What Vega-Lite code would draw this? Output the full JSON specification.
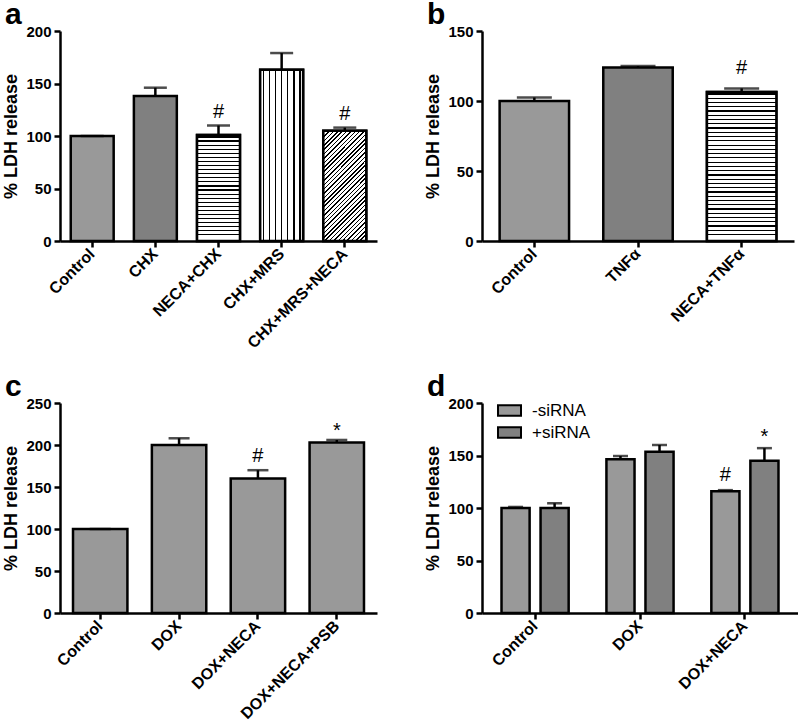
{
  "$schema": "https://vega.github.io/schema/vega-lite/v6.json",
  "padding": {"left": 2, "top": 0, "right": 0, "bottom": 0},
  "background": "white",
  "spacing": 21,
  "resolve": {"scale": {"x": "independent", "y": "independent", "fill": "independent"}},
  "config": {
    "font": "Liberation Sans",
    "view": {"stroke": null},
    "axis": {"domainColor": "black", "domainWidth": 2.5, "tickColor": "black", "tickWidth": 2.5, "tickSize": 6, "labelFont": "Liberation Sans", "labelFontWeight": "bold", "labelFontSize": 15, "labelColor": "black", "titleFont": "Liberation Sans", "titleFontWeight": "bold", "titleFontSize": 18, "titleColor": "black", "grid": false},
    "axisX": {"labelAngle": -45, "labelAlign": "right", "labelBaseline": "middle", "labelPadding": 4, "labelFontSize": 16},
    "axisY": {"labelPadding": 3, "titlePadding": 5},
    "title": {"anchor": "start", "frame": "group", "fontSize": 30, "fontWeight": "bold", "color": "black", "dx": -55, "offset": -6, "baseline": "alphabetic", "font": "Liberation Sans"}
  },
  "vconcat": [
    {
      "hconcat": [
        {
          "title": {"text": "a"},
          "width": 317, "height": 210,
          "data": {"values": [
            {"group": "Control", "value": 100, "err": 100, "pattern": "fine", "sig": ""},
            {"group": "CHX", "value": 138, "err": 146, "pattern": "coarse", "sig": ""},
            {"group": "NECA+CHX", "value": 101, "err": 110, "pattern": "hlines", "sig": "#"},
            {"group": "CHX+MRS", "value": 163, "err": 179, "pattern": "vlines", "sig": ""},
            {"group": "CHX+MRS+NECA", "value": 105, "err": 108, "pattern": "diag", "sig": "#"}
          ]},
          "encoding": {"x": {"field": "group", "type": "nominal", "sort": null, "title": null, "scale": {"domain": ["Control", "CHX", "NECA+CHX", "CHX+MRS", "CHX+MRS+NECA"], "paddingInner": 0.32, "paddingOuter": 0.17}}},
          "layer": [
            {"mark": {"type": "bar", "stroke": "black", "strokeWidth": 2.5},
             "encoding": {"y": {"field": "value", "type": "quantitative", "title": "% LDH release", "scale": {"domain": [0, 200], "nice": false}, "axis": {"values": [0, 50, 100, 150, 200]}},
                          "fill": {"field": "pattern", "type": "nominal", "legend": null, "scale": {"domain": ["fine", "coarse", "hlines", "vlines", "diag"], "range": ["#999999", "#808080", "#c0c0c0", "#d5d5d5", "#adadad"]}}}},
            {"transform": [{"filter": "datum.pattern == 'hlines'"}],
             "mark": {"type": "bar", "stroke": "black", "strokeWidth": 2.5,
                      "fill": {"gradient": "linear", "x1": 0, "y1": 0, "x2": 0, "y2": 1, "stops": [
                              {"offset": 0, "color": "#fff"},
                              {"offset": 0.0137, "color": "#fff"}, {"offset": 0.0137, "color": "#000"}, {"offset": 0.0247, "color": "#000"}, {"offset": 0.0247, "color": "#fff"},
                              {"offset": 0.0522, "color": "#fff"}, {"offset": 0.0522, "color": "#000"}, {"offset": 0.0632, "color": "#000"}, {"offset": 0.0632, "color": "#fff"},
                              {"offset": 0.0907, "color": "#fff"}, {"offset": 0.0907, "color": "#000"}, {"offset": 0.1017, "color": "#000"}, {"offset": 0.1017, "color": "#fff"},
                              {"offset": 0.1291, "color": "#fff"}, {"offset": 0.1291, "color": "#000"}, {"offset": 0.1401, "color": "#000"}, {"offset": 0.1401, "color": "#fff"},
                              {"offset": 0.1676, "color": "#fff"}, {"offset": 0.1676, "color": "#000"}, {"offset": 0.1786, "color": "#000"}, {"offset": 0.1786, "color": "#fff"},
                              {"offset": 0.2060, "color": "#fff"}, {"offset": 0.2060, "color": "#000"}, {"offset": 0.2170, "color": "#000"}, {"offset": 0.2170, "color": "#fff"},
                              {"offset": 0.2445, "color": "#fff"}, {"offset": 0.2445, "color": "#000"}, {"offset": 0.2555, "color": "#000"}, {"offset": 0.2555, "color": "#fff"},
                              {"offset": 0.2830, "color": "#fff"}, {"offset": 0.2830, "color": "#000"}, {"offset": 0.2940, "color": "#000"}, {"offset": 0.2940, "color": "#fff"},
                              {"offset": 0.3214, "color": "#fff"}, {"offset": 0.3214, "color": "#000"}, {"offset": 0.3324, "color": "#000"}, {"offset": 0.3324, "color": "#fff"},
                              {"offset": 0.3599, "color": "#fff"}, {"offset": 0.3599, "color": "#000"}, {"offset": 0.3709, "color": "#000"}, {"offset": 0.3709, "color": "#fff"},
                              {"offset": 0.3983, "color": "#fff"}, {"offset": 0.3983, "color": "#000"}, {"offset": 0.4093, "color": "#000"}, {"offset": 0.4093, "color": "#fff"},
                              {"offset": 0.4368, "color": "#fff"}, {"offset": 0.4368, "color": "#000"}, {"offset": 0.4478, "color": "#000"}, {"offset": 0.4478, "color": "#fff"},
                              {"offset": 0.4753, "color": "#fff"}, {"offset": 0.4753, "color": "#000"}, {"offset": 0.4863, "color": "#000"}, {"offset": 0.4863, "color": "#fff"},
                              {"offset": 0.5137, "color": "#fff"}, {"offset": 0.5137, "color": "#000"}, {"offset": 0.5247, "color": "#000"}, {"offset": 0.5247, "color": "#fff"},
                              {"offset": 0.5522, "color": "#fff"}, {"offset": 0.5522, "color": "#000"}, {"offset": 0.5632, "color": "#000"}, {"offset": 0.5632, "color": "#fff"},
                              {"offset": 0.5907, "color": "#fff"}, {"offset": 0.5907, "color": "#000"}, {"offset": 0.6017, "color": "#000"}, {"offset": 0.6017, "color": "#fff"},
                              {"offset": 0.6291, "color": "#fff"}, {"offset": 0.6291, "color": "#000"}, {"offset": 0.6401, "color": "#000"}, {"offset": 0.6401, "color": "#fff"},
                              {"offset": 0.6676, "color": "#fff"}, {"offset": 0.6676, "color": "#000"}, {"offset": 0.6786, "color": "#000"}, {"offset": 0.6786, "color": "#fff"},
                              {"offset": 0.7060, "color": "#fff"}, {"offset": 0.7060, "color": "#000"}, {"offset": 0.7170, "color": "#000"}, {"offset": 0.7170, "color": "#fff"},
                              {"offset": 0.7445, "color": "#fff"}, {"offset": 0.7445, "color": "#000"}, {"offset": 0.7555, "color": "#000"}, {"offset": 0.7555, "color": "#fff"},
                              {"offset": 0.7830, "color": "#fff"}, {"offset": 0.7830, "color": "#000"}, {"offset": 0.7940, "color": "#000"}, {"offset": 0.7940, "color": "#fff"},
                              {"offset": 0.8214, "color": "#fff"}, {"offset": 0.8214, "color": "#000"}, {"offset": 0.8324, "color": "#000"}, {"offset": 0.8324, "color": "#fff"},
                              {"offset": 0.8599, "color": "#fff"}, {"offset": 0.8599, "color": "#000"}, {"offset": 0.8709, "color": "#000"}, {"offset": 0.8709, "color": "#fff"},
                              {"offset": 0.8983, "color": "#fff"}, {"offset": 0.8983, "color": "#000"}, {"offset": 0.9093, "color": "#000"}, {"offset": 0.9093, "color": "#fff"},
                              {"offset": 0.9368, "color": "#fff"}, {"offset": 0.9368, "color": "#000"}, {"offset": 0.9478, "color": "#000"}, {"offset": 0.9478, "color": "#fff"},
                              {"offset": 1, "color": "#fff"}
                            ]}},
             "encoding": {"y": {"field": "value", "type": "quantitative", "title": "% LDH release"}}},
            {"transform": [{"filter": "datum.pattern == 'vlines'"}],
             "mark": {"type": "bar", "stroke": "black", "strokeWidth": 2.5,
                      "fill": {"gradient": "linear", "x1": 0, "y1": 0, "x2": 1, "y2": 0, "stops": [
                              {"offset": 0, "color": "#fff"},
                              {"offset": 0.0564, "color": "#fff"}, {"offset": 0.0564, "color": "#000"}, {"offset": 0.0864, "color": "#000"}, {"offset": 0.0864, "color": "#fff"},
                              {"offset": 0.1993, "color": "#fff"}, {"offset": 0.1993, "color": "#000"}, {"offset": 0.2293, "color": "#000"}, {"offset": 0.2293, "color": "#fff"},
                              {"offset": 0.3421, "color": "#fff"}, {"offset": 0.3421, "color": "#000"}, {"offset": 0.3721, "color": "#000"}, {"offset": 0.3721, "color": "#fff"},
                              {"offset": 0.4850, "color": "#fff"}, {"offset": 0.4850, "color": "#000"}, {"offset": 0.5150, "color": "#000"}, {"offset": 0.5150, "color": "#fff"},
                              {"offset": 0.6279, "color": "#fff"}, {"offset": 0.6279, "color": "#000"}, {"offset": 0.6579, "color": "#000"}, {"offset": 0.6579, "color": "#fff"},
                              {"offset": 0.7707, "color": "#fff"}, {"offset": 0.7707, "color": "#000"}, {"offset": 0.8007, "color": "#000"}, {"offset": 0.8007, "color": "#fff"},
                              {"offset": 0.9136, "color": "#fff"}, {"offset": 0.9136, "color": "#000"}, {"offset": 0.9436, "color": "#000"}, {"offset": 0.9436, "color": "#fff"},
                              {"offset": 1, "color": "#fff"}
                            ]}},
             "encoding": {"y": {"field": "value", "type": "quantitative", "title": "% LDH release"}}},
            {"transform": [{"filter": "datum.pattern == 'diag'"}],
             "mark": {"type": "bar", "stroke": "black", "strokeWidth": 2.5,
                      "fill": {"gradient": "linear", "x1": 0, "y1": 0, "x2": 0.471, "y2": 1.207, "stops": [
                              {"offset": 0, "color": "#fff"},
                              {"offset": 0.0090, "color": "#fff"}, {"offset": 0.0090, "color": "#000"}, {"offset": 0.0190, "color": "#000"}, {"offset": 0.0190, "color": "#fff"},
                              {"offset": 0.0376, "color": "#fff"}, {"offset": 0.0376, "color": "#000"}, {"offset": 0.0476, "color": "#000"}, {"offset": 0.0476, "color": "#fff"},
                              {"offset": 0.0661, "color": "#fff"}, {"offset": 0.0661, "color": "#000"}, {"offset": 0.0761, "color": "#000"}, {"offset": 0.0761, "color": "#fff"},
                              {"offset": 0.0947, "color": "#fff"}, {"offset": 0.0947, "color": "#000"}, {"offset": 0.1047, "color": "#000"}, {"offset": 0.1047, "color": "#fff"},
                              {"offset": 0.1233, "color": "#fff"}, {"offset": 0.1233, "color": "#000"}, {"offset": 0.1333, "color": "#000"}, {"offset": 0.1333, "color": "#fff"},
                              {"offset": 0.1519, "color": "#fff"}, {"offset": 0.1519, "color": "#000"}, {"offset": 0.1619, "color": "#000"}, {"offset": 0.1619, "color": "#fff"},
                              {"offset": 0.1804, "color": "#fff"}, {"offset": 0.1804, "color": "#000"}, {"offset": 0.1904, "color": "#000"}, {"offset": 0.1904, "color": "#fff"},
                              {"offset": 0.2090, "color": "#fff"}, {"offset": 0.2090, "color": "#000"}, {"offset": 0.2190, "color": "#000"}, {"offset": 0.2190, "color": "#fff"},
                              {"offset": 0.2376, "color": "#fff"}, {"offset": 0.2376, "color": "#000"}, {"offset": 0.2476, "color": "#000"}, {"offset": 0.2476, "color": "#fff"},
                              {"offset": 0.2661, "color": "#fff"}, {"offset": 0.2661, "color": "#000"}, {"offset": 0.2761, "color": "#000"}, {"offset": 0.2761, "color": "#fff"},
                              {"offset": 0.2947, "color": "#fff"}, {"offset": 0.2947, "color": "#000"}, {"offset": 0.3047, "color": "#000"}, {"offset": 0.3047, "color": "#fff"},
                              {"offset": 0.3233, "color": "#fff"}, {"offset": 0.3233, "color": "#000"}, {"offset": 0.3333, "color": "#000"}, {"offset": 0.3333, "color": "#fff"},
                              {"offset": 0.3519, "color": "#fff"}, {"offset": 0.3519, "color": "#000"}, {"offset": 0.3619, "color": "#000"}, {"offset": 0.3619, "color": "#fff"},
                              {"offset": 0.3804, "color": "#fff"}, {"offset": 0.3804, "color": "#000"}, {"offset": 0.3904, "color": "#000"}, {"offset": 0.3904, "color": "#fff"},
                              {"offset": 0.4090, "color": "#fff"}, {"offset": 0.4090, "color": "#000"}, {"offset": 0.4190, "color": "#000"}, {"offset": 0.4190, "color": "#fff"},
                              {"offset": 0.4376, "color": "#fff"}, {"offset": 0.4376, "color": "#000"}, {"offset": 0.4476, "color": "#000"}, {"offset": 0.4476, "color": "#fff"},
                              {"offset": 0.4661, "color": "#fff"}, {"offset": 0.4661, "color": "#000"}, {"offset": 0.4761, "color": "#000"}, {"offset": 0.4761, "color": "#fff"},
                              {"offset": 0.4947, "color": "#fff"}, {"offset": 0.4947, "color": "#000"}, {"offset": 0.5047, "color": "#000"}, {"offset": 0.5047, "color": "#fff"},
                              {"offset": 0.5233, "color": "#fff"}, {"offset": 0.5233, "color": "#000"}, {"offset": 0.5333, "color": "#000"}, {"offset": 0.5333, "color": "#fff"},
                              {"offset": 0.5519, "color": "#fff"}, {"offset": 0.5519, "color": "#000"}, {"offset": 0.5619, "color": "#000"}, {"offset": 0.5619, "color": "#fff"},
                              {"offset": 0.5804, "color": "#fff"}, {"offset": 0.5804, "color": "#000"}, {"offset": 0.5904, "color": "#000"}, {"offset": 0.5904, "color": "#fff"},
                              {"offset": 0.6090, "color": "#fff"}, {"offset": 0.6090, "color": "#000"}, {"offset": 0.6190, "color": "#000"}, {"offset": 0.6190, "color": "#fff"},
                              {"offset": 0.6376, "color": "#fff"}, {"offset": 0.6376, "color": "#000"}, {"offset": 0.6476, "color": "#000"}, {"offset": 0.6476, "color": "#fff"},
                              {"offset": 0.6661, "color": "#fff"}, {"offset": 0.6661, "color": "#000"}, {"offset": 0.6761, "color": "#000"}, {"offset": 0.6761, "color": "#fff"},
                              {"offset": 0.6947, "color": "#fff"}, {"offset": 0.6947, "color": "#000"}, {"offset": 0.7047, "color": "#000"}, {"offset": 0.7047, "color": "#fff"},
                              {"offset": 0.7233, "color": "#fff"}, {"offset": 0.7233, "color": "#000"}, {"offset": 0.7333, "color": "#000"}, {"offset": 0.7333, "color": "#fff"},
                              {"offset": 0.7519, "color": "#fff"}, {"offset": 0.7519, "color": "#000"}, {"offset": 0.7619, "color": "#000"}, {"offset": 0.7619, "color": "#fff"},
                              {"offset": 0.7804, "color": "#fff"}, {"offset": 0.7804, "color": "#000"}, {"offset": 0.7904, "color": "#000"}, {"offset": 0.7904, "color": "#fff"},
                              {"offset": 0.8090, "color": "#fff"}, {"offset": 0.8090, "color": "#000"}, {"offset": 0.8190, "color": "#000"}, {"offset": 0.8190, "color": "#fff"},
                              {"offset": 0.8376, "color": "#fff"}, {"offset": 0.8376, "color": "#000"}, {"offset": 0.8476, "color": "#000"}, {"offset": 0.8476, "color": "#fff"},
                              {"offset": 0.8661, "color": "#fff"}, {"offset": 0.8661, "color": "#000"}, {"offset": 0.8761, "color": "#000"}, {"offset": 0.8761, "color": "#fff"},
                              {"offset": 0.8947, "color": "#fff"}, {"offset": 0.8947, "color": "#000"}, {"offset": 0.9047, "color": "#000"}, {"offset": 0.9047, "color": "#fff"},
                              {"offset": 0.9233, "color": "#fff"}, {"offset": 0.9233, "color": "#000"}, {"offset": 0.9333, "color": "#000"}, {"offset": 0.9333, "color": "#fff"},
                              {"offset": 0.9519, "color": "#fff"}, {"offset": 0.9519, "color": "#000"}, {"offset": 0.9619, "color": "#000"}, {"offset": 0.9619, "color": "#fff"},
                              {"offset": 0.9804, "color": "#fff"}, {"offset": 0.9804, "color": "#000"}, {"offset": 0.9904, "color": "#000"}, {"offset": 0.9904, "color": "#fff"},
                              {"offset": 1, "color": "#fff"}
                            ]}},
             "encoding": {"y": {"field": "value", "type": "quantitative", "title": "% LDH release"}}},
            {"mark": {"type": "rule", "strokeWidth": 2.5, "color": "black"},
             "encoding": {"y": {"field": "value", "type": "quantitative", "title": "% LDH release"}, "y2": {"field": "err"}}},
            {"mark": {"type": "tick", "size": 23, "thickness": 2.5, "color": "black"},
             "encoding": {"y": {"field": "err", "type": "quantitative", "title": "% LDH release"}}},
            {"mark": {"type": "text", "dy": -14, "fontSize": 20, "baseline": "middle", "color": "black"},
             "encoding": {"y": {"field": "err", "type": "quantitative", "title": "% LDH release"}, "text": {"field": "sig"}}}
          ]
        },
        {
          "title": {"text": "b"},
          "width": 312, "height": 210,
          "data": {"values": [
            {"group": "Control", "value": 100, "err": 102.5, "pattern": "fine", "sig": ""},
            {"group": "TNFα", "value": 124, "err": 125, "pattern": "coarse", "sig": ""},
            {"group": "NECA+TNFα", "value": 106.5, "err": 109, "pattern": "hlines", "sig": "#"}
          ]},
          "encoding": {"x": {"field": "group", "type": "nominal", "sort": null, "title": null, "scale": {"domain": ["Control", "TNFα", "NECA+TNFα"], "paddingInner": 0.33, "paddingOuter": 0.17}}},
          "layer": [
            {"mark": {"type": "bar", "stroke": "black", "strokeWidth": 2.5},
             "encoding": {"y": {"field": "value", "type": "quantitative", "title": "% LDH release", "scale": {"domain": [0, 150], "nice": false}, "axis": {"values": [0, 50, 100, 150]}},
                          "fill": {"field": "pattern", "type": "nominal", "legend": null, "scale": {"domain": ["fine", "coarse", "hlines"], "range": ["#999999", "#808080", "#c0c0c0"]}}}},
            {"transform": [{"filter": "datum.pattern == 'hlines'"}],
             "mark": {"type": "bar", "stroke": "black", "strokeWidth": 2.5,
                      "fill": {"gradient": "linear", "x1": 0, "y1": 0, "x2": 0, "y2": 1, "stops": [
                              {"offset": 0, "color": "#fff"},
                              {"offset": 0.0100, "color": "#fff"}, {"offset": 0.0100, "color": "#000"}, {"offset": 0.0180, "color": "#000"}, {"offset": 0.0180, "color": "#fff"},
                              {"offset": 0.0386, "color": "#fff"}, {"offset": 0.0386, "color": "#000"}, {"offset": 0.0466, "color": "#000"}, {"offset": 0.0466, "color": "#fff"},
                              {"offset": 0.0671, "color": "#fff"}, {"offset": 0.0671, "color": "#000"}, {"offset": 0.0751, "color": "#000"}, {"offset": 0.0751, "color": "#fff"},
                              {"offset": 0.0957, "color": "#fff"}, {"offset": 0.0957, "color": "#000"}, {"offset": 0.1037, "color": "#000"}, {"offset": 0.1037, "color": "#fff"},
                              {"offset": 0.1243, "color": "#fff"}, {"offset": 0.1243, "color": "#000"}, {"offset": 0.1323, "color": "#000"}, {"offset": 0.1323, "color": "#fff"},
                              {"offset": 0.1529, "color": "#fff"}, {"offset": 0.1529, "color": "#000"}, {"offset": 0.1609, "color": "#000"}, {"offset": 0.1609, "color": "#fff"},
                              {"offset": 0.1814, "color": "#fff"}, {"offset": 0.1814, "color": "#000"}, {"offset": 0.1894, "color": "#000"}, {"offset": 0.1894, "color": "#fff"},
                              {"offset": 0.2100, "color": "#fff"}, {"offset": 0.2100, "color": "#000"}, {"offset": 0.2180, "color": "#000"}, {"offset": 0.2180, "color": "#fff"},
                              {"offset": 0.2386, "color": "#fff"}, {"offset": 0.2386, "color": "#000"}, {"offset": 0.2466, "color": "#000"}, {"offset": 0.2466, "color": "#fff"},
                              {"offset": 0.2671, "color": "#fff"}, {"offset": 0.2671, "color": "#000"}, {"offset": 0.2751, "color": "#000"}, {"offset": 0.2751, "color": "#fff"},
                              {"offset": 0.2957, "color": "#fff"}, {"offset": 0.2957, "color": "#000"}, {"offset": 0.3037, "color": "#000"}, {"offset": 0.3037, "color": "#fff"},
                              {"offset": 0.3243, "color": "#fff"}, {"offset": 0.3243, "color": "#000"}, {"offset": 0.3323, "color": "#000"}, {"offset": 0.3323, "color": "#fff"},
                              {"offset": 0.3529, "color": "#fff"}, {"offset": 0.3529, "color": "#000"}, {"offset": 0.3609, "color": "#000"}, {"offset": 0.3609, "color": "#fff"},
                              {"offset": 0.3814, "color": "#fff"}, {"offset": 0.3814, "color": "#000"}, {"offset": 0.3894, "color": "#000"}, {"offset": 0.3894, "color": "#fff"},
                              {"offset": 0.4100, "color": "#fff"}, {"offset": 0.4100, "color": "#000"}, {"offset": 0.4180, "color": "#000"}, {"offset": 0.4180, "color": "#fff"},
                              {"offset": 0.4386, "color": "#fff"}, {"offset": 0.4386, "color": "#000"}, {"offset": 0.4466, "color": "#000"}, {"offset": 0.4466, "color": "#fff"},
                              {"offset": 0.4671, "color": "#fff"}, {"offset": 0.4671, "color": "#000"}, {"offset": 0.4751, "color": "#000"}, {"offset": 0.4751, "color": "#fff"},
                              {"offset": 0.4957, "color": "#fff"}, {"offset": 0.4957, "color": "#000"}, {"offset": 0.5037, "color": "#000"}, {"offset": 0.5037, "color": "#fff"},
                              {"offset": 0.5243, "color": "#fff"}, {"offset": 0.5243, "color": "#000"}, {"offset": 0.5323, "color": "#000"}, {"offset": 0.5323, "color": "#fff"},
                              {"offset": 0.5529, "color": "#fff"}, {"offset": 0.5529, "color": "#000"}, {"offset": 0.5609, "color": "#000"}, {"offset": 0.5609, "color": "#fff"},
                              {"offset": 0.5814, "color": "#fff"}, {"offset": 0.5814, "color": "#000"}, {"offset": 0.5894, "color": "#000"}, {"offset": 0.5894, "color": "#fff"},
                              {"offset": 0.6100, "color": "#fff"}, {"offset": 0.6100, "color": "#000"}, {"offset": 0.6180, "color": "#000"}, {"offset": 0.6180, "color": "#fff"},
                              {"offset": 0.6386, "color": "#fff"}, {"offset": 0.6386, "color": "#000"}, {"offset": 0.6466, "color": "#000"}, {"offset": 0.6466, "color": "#fff"},
                              {"offset": 0.6671, "color": "#fff"}, {"offset": 0.6671, "color": "#000"}, {"offset": 0.6751, "color": "#000"}, {"offset": 0.6751, "color": "#fff"},
                              {"offset": 0.6957, "color": "#fff"}, {"offset": 0.6957, "color": "#000"}, {"offset": 0.7037, "color": "#000"}, {"offset": 0.7037, "color": "#fff"},
                              {"offset": 0.7243, "color": "#fff"}, {"offset": 0.7243, "color": "#000"}, {"offset": 0.7323, "color": "#000"}, {"offset": 0.7323, "color": "#fff"},
                              {"offset": 0.7529, "color": "#fff"}, {"offset": 0.7529, "color": "#000"}, {"offset": 0.7609, "color": "#000"}, {"offset": 0.7609, "color": "#fff"},
                              {"offset": 0.7814, "color": "#fff"}, {"offset": 0.7814, "color": "#000"}, {"offset": 0.7894, "color": "#000"}, {"offset": 0.7894, "color": "#fff"},
                              {"offset": 0.8100, "color": "#fff"}, {"offset": 0.8100, "color": "#000"}, {"offset": 0.8180, "color": "#000"}, {"offset": 0.8180, "color": "#fff"},
                              {"offset": 0.8386, "color": "#fff"}, {"offset": 0.8386, "color": "#000"}, {"offset": 0.8466, "color": "#000"}, {"offset": 0.8466, "color": "#fff"},
                              {"offset": 0.8671, "color": "#fff"}, {"offset": 0.8671, "color": "#000"}, {"offset": 0.8751, "color": "#000"}, {"offset": 0.8751, "color": "#fff"},
                              {"offset": 0.8957, "color": "#fff"}, {"offset": 0.8957, "color": "#000"}, {"offset": 0.9037, "color": "#000"}, {"offset": 0.9037, "color": "#fff"},
                              {"offset": 0.9243, "color": "#fff"}, {"offset": 0.9243, "color": "#000"}, {"offset": 0.9323, "color": "#000"}, {"offset": 0.9323, "color": "#fff"},
                              {"offset": 0.9529, "color": "#fff"}, {"offset": 0.9529, "color": "#000"}, {"offset": 0.9609, "color": "#000"}, {"offset": 0.9609, "color": "#fff"},
                              {"offset": 1, "color": "#fff"}
                            ]}},
             "encoding": {"y": {"field": "value", "type": "quantitative", "title": "% LDH release"}}},
            {"mark": {"type": "rule", "strokeWidth": 2.5, "color": "black"},
             "encoding": {"y": {"field": "value", "type": "quantitative", "title": "% LDH release"}, "y2": {"field": "err"}}},
            {"mark": {"type": "tick", "size": 35, "thickness": 2.5, "color": "black"},
             "encoding": {"y": {"field": "err", "type": "quantitative", "title": "% LDH release"}}},
            {"mark": {"type": "text", "dy": -20, "fontSize": 20, "baseline": "middle", "color": "black"},
             "encoding": {"y": {"field": "err", "type": "quantitative", "title": "% LDH release"}, "text": {"field": "sig"}}}
          ]
        }
      ],
      "spacing": 105,
      "bounds": "flush",
      "resolve": {"scale": {"x": "independent", "y": "independent", "fill": "independent"}}
    },
    {
      "hconcat": [
        {
          "title": {"text": "c"},
          "width": 317, "height": 210,
          "data": {"values": [
            {"group": "Control", "value": 100, "err": 100, "pattern": "fine", "sig": ""},
            {"group": "DOX", "value": 200, "err": 208, "pattern": "fine", "sig": ""},
            {"group": "DOX+NECA", "value": 160, "err": 170, "pattern": "fine", "sig": "#"},
            {"group": "DOX+NECA+PSB", "value": 203, "err": 206, "pattern": "fine", "sig": "*"}
          ]},
          "encoding": {"x": {"field": "group", "type": "nominal", "sort": null, "title": null, "scale": {"domain": ["Control", "DOX", "DOX+NECA", "DOX+NECA+PSB"], "paddingInner": 0.31, "paddingOuter": 0.165}}},
          "layer": [
            {"mark": {"type": "bar", "stroke": "black", "strokeWidth": 2.5},
             "encoding": {"y": {"field": "value", "type": "quantitative", "title": "% LDH release", "scale": {"domain": [0, 250], "nice": false}, "axis": {"values": [0, 50, 100, 150, 200, 250]}},
                          "fill": {"field": "pattern", "type": "nominal", "legend": null, "scale": {"domain": ["fine"], "range": ["#999999"]}}}},
            {"mark": {"type": "rule", "strokeWidth": 2.5, "color": "black"},
             "encoding": {"y": {"field": "value", "type": "quantitative", "title": "% LDH release"}, "y2": {"field": "err"}}},
            {"mark": {"type": "tick", "size": 21, "thickness": 2.5, "color": "black"},
             "encoding": {"y": {"field": "err", "type": "quantitative", "title": "% LDH release"}}},
            {"transform": [{"filter": "datum.sig == '#'"}],
             "mark": {"type": "text", "dy": -14, "fontSize": 20, "baseline": "middle", "color": "black"},
             "encoding": {"y": {"field": "err", "type": "quantitative", "title": "% LDH release"}, "text": {"field": "sig"}}},
            {"transform": [{"filter": "datum.sig == '*'"}],
             "mark": {"type": "text", "dy": -9, "fontSize": 20, "baseline": "middle", "color": "black"},
             "encoding": {"y": {"field": "err", "type": "quantitative", "title": "% LDH release"}, "text": {"field": "sig"}}}
          ]
        },
        {
          "title": {"text": "d"},
          "width": 316, "height": 210,
          "data": {"values": [
            {"group": "Control", "siRNA": "-siRNA", "value": 100, "err": 101, "sig": ""},
            {"group": "Control", "siRNA": "+siRNA", "value": 100, "err": 104.5, "sig": ""},
            {"group": "DOX", "siRNA": "-siRNA", "value": 146.5, "err": 149.5, "sig": ""},
            {"group": "DOX", "siRNA": "+siRNA", "value": 153.5, "err": 160, "sig": ""},
            {"group": "DOX+NECA", "siRNA": "-siRNA", "value": 116, "err": 117, "sig": "#"},
            {"group": "DOX+NECA", "siRNA": "+siRNA", "value": 145, "err": 157, "sig": "*"}
          ]},
          "encoding": {
            "x": {"field": "group", "type": "nominal", "sort": null, "title": null, "scale": {"domain": ["Control", "DOX", "DOX+NECA"], "paddingInner": 0.36, "paddingOuter": 0.186}},
            "xOffset": {"field": "siRNA", "type": "nominal", "sort": ["-siRNA", "+siRNA"], "scale": {"paddingInner": 0.28, "paddingOuter": 0}}
          },
          "layer": [
            {"mark": {"type": "bar", "stroke": "black", "strokeWidth": 2.5},
             "encoding": {"y": {"field": "value", "type": "quantitative", "title": "% LDH release", "scale": {"domain": [0, 200], "nice": false}, "axis": {"values": [0, 50, 100, 150, 200]}},
                          "fill": {"field": "siRNA", "type": "nominal", "scale": {"domain": ["-siRNA", "+siRNA"], "range": ["#999999", "#808080"]},
                                   "legend": {"orient": "none", "legendX": 15, "legendY": -5, "title": null, "padding": 0, "symbolType": "M-1,-0.45H1V0.45H-1Z", "symbolSize": 529, "symbolStrokeColor": "black", "symbolStrokeWidth": 2, "symbolOpacity": 1, "labelFontSize": 17, "labelFont": "Liberation Sans", "labelColor": "black", "labelOffset": 10, "rowPadding": 0}}}},
            {"mark": {"type": "rule", "strokeWidth": 2.5, "color": "black"},
             "encoding": {"y": {"field": "value", "type": "quantitative", "title": "% LDH release"}, "y2": {"field": "err"}}},
            {"mark": {"type": "tick", "size": 15, "thickness": 2.5, "color": "black"},
             "encoding": {"y": {"field": "err", "type": "quantitative", "title": "% LDH release"}}},
            {"transform": [{"filter": "datum.sig == '#'"}],
             "mark": {"type": "text", "dy": -15, "fontSize": 20, "baseline": "middle", "color": "black"},
             "encoding": {"y": {"field": "err", "type": "quantitative", "title": "% LDH release"}, "text": {"field": "sig"}}},
            {"transform": [{"filter": "datum.sig == '*'"}],
             "mark": {"type": "text", "dy": -11, "fontSize": 20, "baseline": "middle", "color": "black"},
             "encoding": {"y": {"field": "err", "type": "quantitative", "title": "% LDH release"}, "text": {"field": "sig"}}}
          ]
        }
      ],
      "spacing": 105,
      "bounds": "flush",
      "resolve": {"scale": {"x": "independent", "y": "independent", "fill": "independent"}}
    }
  ]
}
